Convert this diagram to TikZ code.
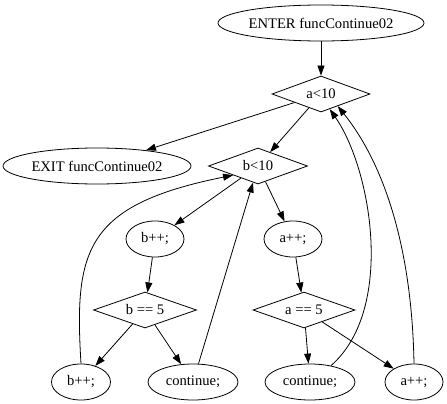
\documentclass[tikz,border=0pt]{standalone}
\usepackage{fontspec}
\setmainfont{Liberation Serif}
\usetikzlibrary{shapes.geometric, arrows.meta}

\begin{document}
\begin{tikzpicture}[x=1pt, y=-1pt, >={Triangle[length=10pt,width=7pt]}, line width=0.8pt,
    oval/.style={draw, ellipse, inner sep=0pt, minimum height=36pt, font=\fontsize{14.6}{16}\selectfont},
    cond/.style={draw, diamond, aspect=2.7, inner sep=0pt, minimum height=36pt, font=\fontsize{14.6}{16}\selectfont}]
            \useasboundingbox (0,0) rectangle (447,404);

            \node[oval, minimum width=206pt] (enter) at (321,23) {ENTER funcContinue02};
            \node[cond, minimum width=98pt] (a10) at (321,94) {a<10};
            \node[oval, minimum width=188pt] (exit) at (97,166) {EXIT funcContinue02};
            \node[cond, minimum width=99pt] (b10) at (258,166) {b<10};
            \node[oval, minimum width=58pt] (bpp) at (155,239) {b++;};
            \node[oval, minimum width=58pt] (app) at (293,239) {a++;};
            \node[cond, minimum width=103pt] (b5) at (145,310) {b == 5};
            \node[cond, minimum width=102pt] (a5) at (304,310) {a == 5};
            \node[oval, minimum width=59pt] (bpp2) at (81,382) {b++;};
            \node[oval, minimum width=90pt] (cont1) at (193,382) {continue;};
            \node[oval, minimum width=90pt] (cont2) at (310,382) {continue;};
            \node[oval, minimum width=58pt] (app2) at (414,382) {a++;};

            \draw[->] (enter) -- (a10);
            \draw[->] (a10) -- (exit);
            \draw[->] (a10) -- (b10);
            \draw[->] (b10) -- (bpp);
            \draw[->] (b10) -- (app);
            \draw[->] (bpp) -- (b5);
            \draw[->] (app) -- (a5);
            \draw[->] (b5) -- (bpp2);
            \draw[->] (b5) -- (cont1);
            \draw[->] (a5) -- (cont2);
            \draw[->] (a5) -- (app2);

            \draw[->] (bpp2.north) .. controls (74,250) and (85,205) .. (b10.south west);
            \draw[->] (cont1) -- (b10);
            \draw[->] (cont2.38) .. controls (395,310) and (372,170) .. (a10.-60);
            \draw[->] (app2.north) .. controls (412,250) and (385,165) .. (a10.-36);
        \end{tikzpicture}
\end{document}
